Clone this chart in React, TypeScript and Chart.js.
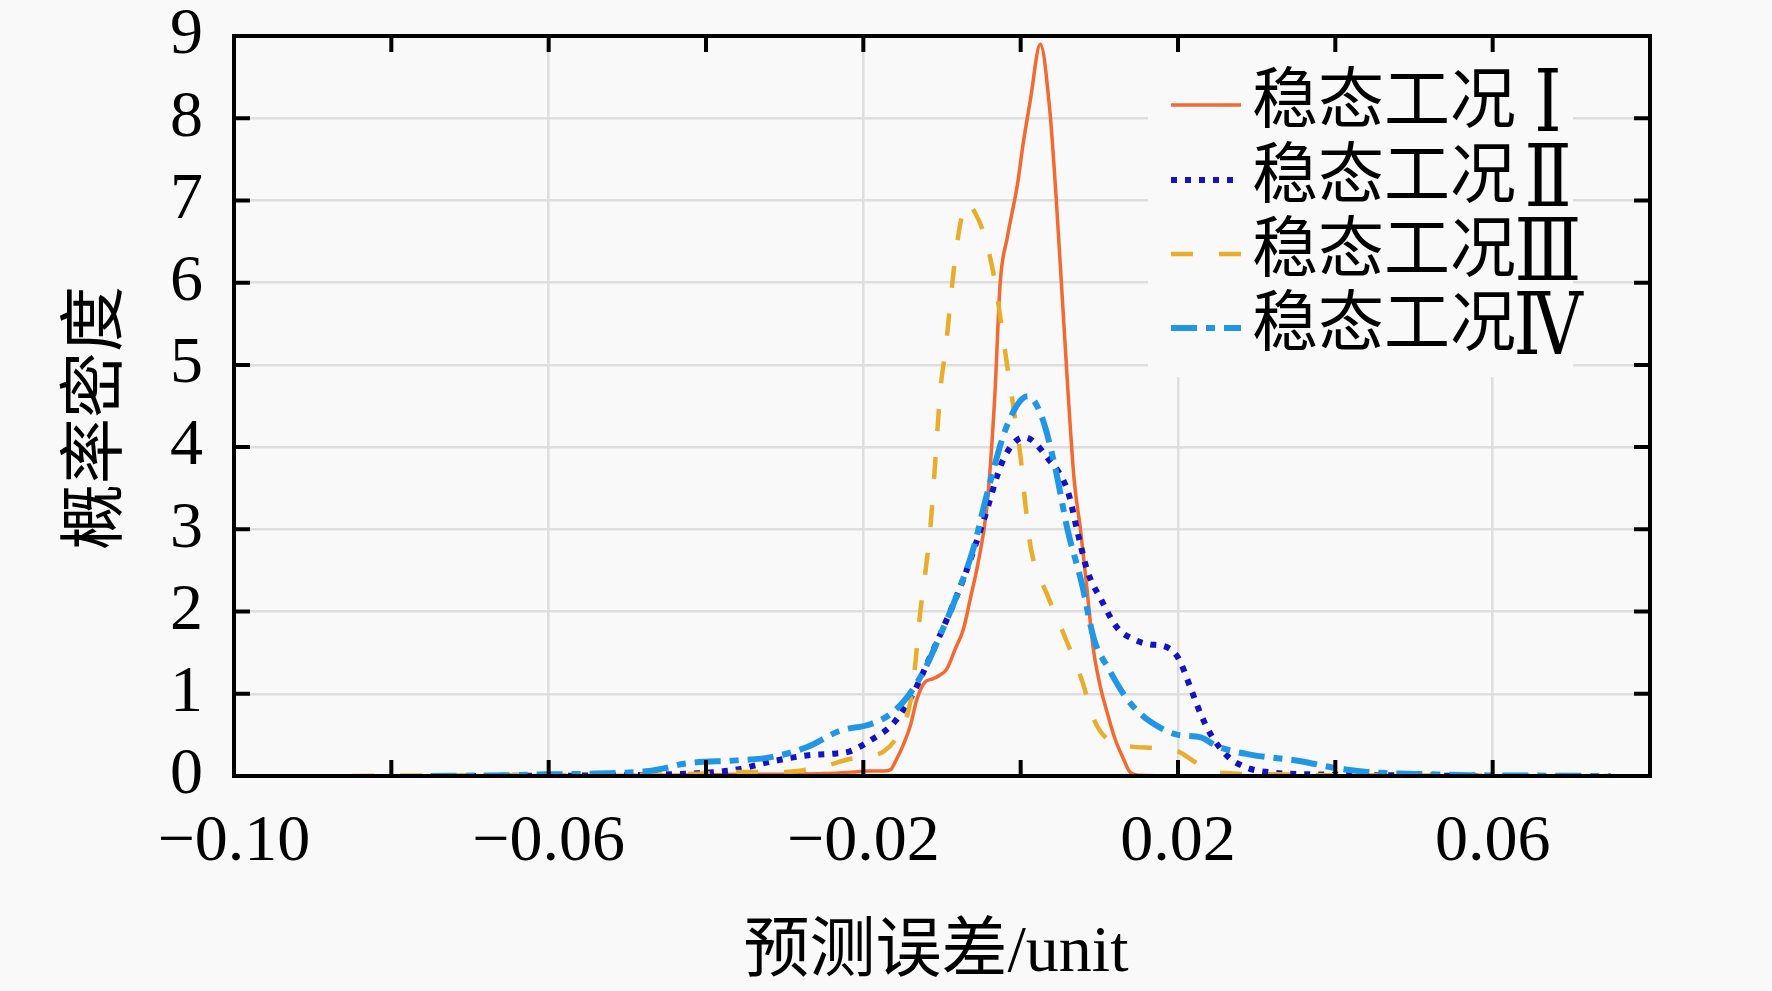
import React, { useEffect, useRef } from 'react';
import Chart from 'chart.js/auto';

// axis ranges and labelled ticks
const xMin = -0.1;
const xMax = 0.08;
const yMin = 0;
const yMax = 9;
const xLabelTicks = [-0.1, -0.06, -0.02, 0.02, 0.06];

const seriesNames = ['稳态工况Ⅰ', '稳态工况Ⅱ', '稳态工况Ⅲ', '稳态工况Ⅳ'];
const xTitle = '预测误差/unit';
const yTitle = '概率密度';

// 稳态工况Ⅰ
const s1X = [-0.08, -0.06, -0.045, -0.035, -0.025, -0.021, -0.0195, -0.0175, -0.0165, -0.0158, -0.015, -0.014, -0.0132, -0.0122, -0.0112, -0.0104, -0.0094, -0.0083, -0.0073, -0.0063, -0.0055, -0.0043, -0.0033, -0.0026, -0.0017, -0.0004, 0.0003, 0.0012, 0.0025, 0.0037, 0.0045, 0.0053, 0.006, 0.0068, 0.0076, 0.0084, 0.0092, 0.0101, 0.011, 0.012, 0.0131, 0.0138, 0.015, 0.02, 0.03, 0.05, 0.07];
const s1Y = [0, 0.005, 0.01, 0.02, 0.03, 0.05, 0.06, 0.06, 0.08, 0.2, 0.36, 0.62, 0.93, 1.14, 1.18, 1.22, 1.3, 1.55, 1.78, 2.2, 2.55, 3.27, 4.6, 6.0, 6.55, 7.2, 7.68, 8.2, 8.9, 8.1, 7.05, 5.8, 4.7, 3.6, 3.0, 2.3, 1.57, 1.1, 0.77, 0.45, 0.2, 0.06, 0.01, 0, 0, 0, 0];

// 稳态工况Ⅱ
const s2X = [-0.07, -0.05, -0.045, -0.04, -0.036, -0.032, -0.0272, -0.024, -0.0217, -0.019, -0.0162, -0.0137, -0.0115, -0.0094, -0.0073, -0.0048, -0.0022, 0.0005, 0.0034, 0.006, 0.0072, 0.0085, 0.0102, 0.0123, 0.0144, 0.0165, 0.0182, 0.02, 0.0216, 0.0229, 0.0242, 0.0263, 0.0288, 0.0322, 0.0377, 0.045, 0.06];
const s2Y = [0, 0.01, 0.02, 0.04, 0.08, 0.17, 0.25, 0.27, 0.3, 0.44, 0.64, 1.0, 1.45, 1.9, 2.39, 3.08, 3.85, 4.12, 3.87, 3.46, 2.98, 2.49, 2.15, 1.8, 1.66, 1.6, 1.58, 1.44, 1.07, 0.75, 0.5, 0.24, 0.1, 0.04, 0.02, 0.01, 0];

// 稳态工况Ⅲ
const s3X = [-0.085, -0.07, -0.055, -0.045, -0.04, -0.035, -0.03, -0.025, -0.022, -0.02, -0.0174, -0.0153, -0.014, -0.0134, -0.0128, -0.0121, -0.0115, -0.0108, -0.0102, -0.0095, -0.0089, -0.0083, -0.0075, -0.0068, -0.0058, -0.0047, -0.0034, -0.0017, -0.0009, 0, 0.0006, 0.0013, 0.0034, 0.0055, 0.0077, 0.0094, 0.011, 0.014, 0.017, 0.02, 0.022, 0.024, 0.027, 0.032, 0.04, 0.06, 0.075];
const s3Y = [0, 0.01, 0.01, 0.02, 0.03, 0.05, 0.05, 0.12, 0.2, 0.24, 0.3, 0.55, 0.91, 1.36, 1.96, 2.49, 3.0, 3.9, 4.7, 5.23, 5.8, 6.32, 6.8, 6.97, 6.85, 6.6, 6.08, 4.98, 4.47, 3.87, 3.3, 2.77, 2.2, 1.72, 1.19, 0.67, 0.45, 0.36, 0.34, 0.3, 0.18, 0.07, 0.03, 0.02, 0.01, 0.005, 0];

// 稳态工况Ⅳ
const s4X = [-0.075, -0.065, -0.06, -0.054, -0.0473, -0.045, -0.0428, -0.0361, -0.0317, -0.0272, -0.023, -0.0191, -0.0166, -0.0145, -0.0123, -0.0102, -0.0081, -0.006, -0.0043, -0.0017, 0.0009, 0.0026, 0.0043, 0.006, 0.0077, 0.0094, 0.0111, 0.0132, 0.0153, 0.0179, 0.02, 0.0229, 0.025, 0.0292, 0.0356, 0.0398, 0.044, 0.0526, 0.057, 0.065, 0.075];
const s4Y = [0, 0.01, 0.02, 0.03, 0.06, 0.1, 0.15, 0.19, 0.23, 0.35, 0.55, 0.63, 0.75, 0.95, 1.28, 1.72, 2.2, 2.77, 3.42, 4.27, 4.62, 4.39, 3.79, 2.98, 2.37, 1.64, 1.32, 0.98, 0.75, 0.58, 0.5, 0.47, 0.36, 0.26, 0.18, 0.1, 0.05, 0.02, 0.01, 0.005, 0];

const BG = '#f9f9f9';
const FONT = '"Liberation Serif", "DejaVu Serif", "Noto Sans CJK SC", serif';
const GRID = '#dedede';

const toPoints = (xs: number[], ys: number[]) => xs.map((x, i) => ({ x, y: ys[i] }));
const isLabelled = (v: number) => xLabelTicks.some((t) => Math.abs(t - v) < 1e-6);

const boxPlugin = {
    id: 'boxAndLegend',
    beforeDatasetsDraw(chart: any) {
        const { ctx, chartArea: a } = chart;
        // the legend backing hides the grid under it
        ctx.save();
        ctx.fillStyle = BG;
        ctx.fillRect(a.right - 502, a.top + 9, 425, 332);
        ctx.restore();
    },
    afterDatasetsDraw(chart: any) {
        const { ctx, chartArea: a, scales } = chart;
        ctx.save();
        ctx.strokeStyle = '#000';
        ctx.lineWidth = 4;
        ctx.setLineDash([]);
        const tl = 16;
        ctx.beginPath();
        scales.x.ticks.forEach((t: any) => {
            const px = scales.x.getPixelForValue(t.value);
            ctx.moveTo(px, a.bottom);
            ctx.lineTo(px, a.bottom - tl);
            ctx.moveTo(px, a.top);
            ctx.lineTo(px, a.top + tl);
        });
        scales.y.ticks.forEach((t: any) => {
            const py = scales.y.getPixelForValue(t.value);
            ctx.moveTo(a.left, py);
            ctx.lineTo(a.left + tl, py);
            ctx.moveTo(a.right, py);
            ctx.lineTo(a.right - tl, py);
        });
        ctx.stroke();
        ctx.strokeRect(a.left, a.top, a.right - a.left, a.bottom - a.top);
        ctx.restore();
    },
    afterDraw(chart: any) {
        const { ctx, chartArea: a } = chart;
        ctx.save();
        // legend
        const rowY = [69, 144, 218, 292];
        chart.data.datasets.forEach((ds: any, i: number) => {
            const y = a.top + rowY[i];
            ctx.strokeStyle = ds.borderColor;
            ctx.lineWidth = ds.borderWidth;
            ctx.setLineDash(ds.borderDash || []);
            ctx.beginPath();
            ctx.moveTo(a.right - 479, y);
            ctx.lineTo(a.right - 409, y);
            ctx.stroke();
            ctx.setLineDash([]);
            ctx.fillStyle = '#000';
            ctx.font = `66px ${FONT}`;
            ctx.textAlign = 'left';
            ctx.textBaseline = 'middle';
            // the roman numeral sits centred in a full-width cell, drawn taller
            const label: string = ds.label;
            const m = label.match(/^(.*?)([\u2160-\u216F]+)$/);
            const head = m ? m[1] : label;
            const tail = m ? m[2] : '';
            const x0 = a.right - 398;
            ctx.fillText(head, x0, y);
            if (tail) {
                const w = ctx.measureText(head).width;
                ctx.save();
                ctx.textAlign = 'center';
                ctx.translate(x0 + w + 32, y + 3);
                ctx.scale(1.05, 1.3);
                ctx.fillText(tail, 0, 0);
                ctx.restore();
            }
        });
        // axis titles
        ctx.fillStyle = '#000';
        ctx.font = `66px ${FONT}`;
        ctx.textAlign = 'center';
        ctx.textBaseline = 'middle';
        ctx.fillText(xTitle, a.left + 702, a.bottom + 178);
        ctx.translate(99, a.top + 382);
        ctx.rotate(-Math.PI / 2);
        ctx.fillText(yTitle, 0, 0);
        ctx.restore();
    },
};

const App: React.FC = () => {
    const chartRef = useRef<HTMLCanvasElement>(null);
    const chartInstanceRef = useRef<Chart | null>(null);

    useEffect(() => {
        document.body.style.margin = '0';
        document.body.style.background = BG;
        if (!chartRef.current) return;
        if (chartInstanceRef.current) chartInstanceRef.current.destroy();
        const ctx = chartRef.current.getContext('2d');
        if (!ctx) return;

        chartInstanceRef.current = new Chart(ctx, {
            type: 'line',
            data: {
                datasets: [
                    {
                        label: seriesNames[0],
                        data: toPoints(s1X, s1Y),
                        borderColor: '#f26a30',
                        borderWidth: 3.5,
                        borderDash: [],
                        order: 4,
                    },
                    {
                        label: seriesNames[1],
                        data: toPoints(s2X, s2Y),
                        borderColor: '#1512c6',
                        borderWidth: 6,
                        borderDash: [6, 8],
                        order: 3,
                    },
                    {
                        label: seriesNames[2],
                        data: toPoints(s3X, s3Y),
                        borderColor: '#e9ad2c',
                        borderWidth: 4.5,
                        borderDash: [22, 26],
                        order: 2,
                    },
                    {
                        label: seriesNames[3],
                        data: toPoints(s4X, s4Y),
                        borderColor: '#2196e6',
                        borderWidth: 6,
                        borderDash: [26, 9, 9, 9],
                        order: 1,
                    },
                ],
            },
            options: {
                responsive: true,
                maintainAspectRatio: false,
                animation: false,
                elements: {
                    point: { radius: 0, hoverRadius: 0 },
                    line: { cubicInterpolationMode: 'monotone', fill: false },
                },
                layout: { padding: { left: 0, right: 122, top: 36, bottom: 0 } },
                plugins: {
                    legend: { display: false },
                    tooltip: { enabled: false },
                },
                scales: {
                    x: {
                        type: 'linear',
                        min: xMin,
                        max: xMax,
                        afterFit: (scale: any) => {
                            scale.height = 215;
                            scale.paddingLeft = 0;
                            scale.paddingRight = 0;
                        },
                        border: { display: false },
                        grid: {
                            drawTicks: false,
                            lineWidth: 2.5,
                            color: (c: any) => (isLabelled(c.tick.value) ? GRID : 'rgba(0,0,0,0)'),
                        },
                        ticks: {
                            stepSize: 0.02,
                            autoSkip: false,
                            maxRotation: 0,
                            padding: 27,
                            color: '#000',
                            font: { family: FONT, size: 66 },
                            callback: (v: any) => {
                                const n = Number(v);
                                if (!isLabelled(n)) return '';
                                return (n < 0 ? '\u2212' : '') + Math.abs(n).toFixed(2);
                            },
                        },
                    },
                    y: {
                        type: 'linear',
                        min: yMin,
                        max: yMax,
                        afterFit: (scale: any) => {
                            scale.width = 234;
                            scale.paddingTop = 0;
                            scale.paddingBottom = 0;
                        },
                        border: { display: false },
                        grid: { drawTicks: false, lineWidth: 2.5, color: GRID },
                        ticks: {
                            stepSize: 1,
                            padding: 31,
                            color: '#000',
                            font: { family: FONT, size: 66, lineHeight: 1 },
                        },
                    },
                },
            },
            plugins: [boxPlugin],
        });

        return () => {
            if (chartInstanceRef.current) {
                chartInstanceRef.current.destroy();
                chartInstanceRef.current = null;
            }
        };
    }, []);

    return (
        <div style={{ position: 'relative', width: '1772px', height: '991px', background: BG }}>
            <canvas ref={chartRef}></canvas>
        </div>
    );
};

export default App;
